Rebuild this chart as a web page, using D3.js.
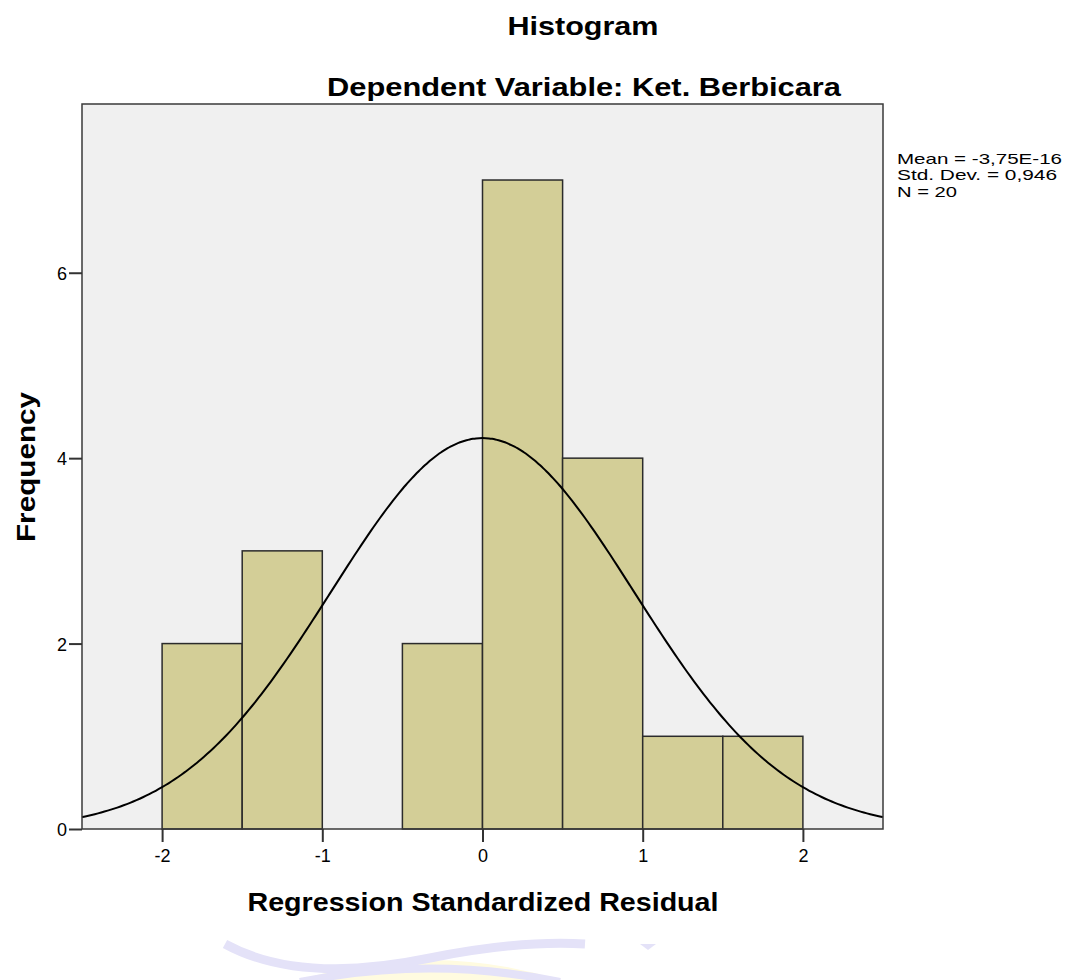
<!DOCTYPE html>
<html>
<head>
<meta charset="utf-8">
<script src="https://cdn.jsdelivr.net/npm/d3@7"></script>
<style>
  body { margin: 0; background: #fff; }
  text { font-family: "Liberation Sans", Arial, sans-serif; fill: #000; }
</style>
</head>
<body>
<script>
// chart data
let binStarts = [-2, -1.5, -1, -0.5, 0, 0.5, 1, 1.5];
let binWidth = 0.5;
let counts = [2, 3, 0, 2, 7, 4, 1, 1];
let xTicks = [-2, -1, 0, 1, 2];
let yTicks = [0, 2, 4, 6];
let statsLines = ["Mean = -3,75E-16", "Std. Dev. = 0,946", "N = 20"];
let mean = -3.75e-16;
let sd = 0.946;
let n = 20;

let width = 1073;
let height = 980;

let svg = d3
  .select("body")
  .append("svg")
  .attr("width", width)
  .attr("height", height);

let x = d3.scaleLinear().domain([-2.5, 2.5]).range([82, 883]);
let y = d3.scaleLinear().domain([0, 7.82]).range([829, 104]);

// faint watermark at the bottom (cropped logo)
let wm = svg.append("g");
wm.append("path")
  .attr("d", "M300,980 Q430,940 560,980 Z")
  .attr("fill", "#fffbe0");
wm.append("path")
  .attr("d", "M225,944 Q300,985 430,958 Q520,940 585,944")
  .attr("fill", "none")
  .attr("stroke", "#e4e2f8")
  .attr("stroke-width", 9);
wm.append("path")
  .attr("d", "M300,982 Q430,955 560,982")
  .attr("fill", "none")
  .attr("stroke", "#e4e2f8")
  .attr("stroke-width", 8);
wm.append("path")
  .attr("d", "M640,944 L656,944 L648,950 Z")
  .attr("fill", "#e4e2f8");

// plot background
svg
  .append("rect")
  .attr("x", x(-2.5))
  .attr("y", y(7.82))
  .attr("width", x(2.5) - x(-2.5))
  .attr("height", y(0) - y(7.82))
  .attr("fill", "#f0f0f0");

// bars
svg
  .append("g")
  .selectAll("rect")
  .data(binStarts.map((s, i) => ({ s, c: counts[i] })).filter((d) => d.c > 0))
  .enter()
  .append("rect")
  .attr("x", (d) => x(d.s))
  .attr("y", (d) => y(d.c))
  .attr("width", (d) => x(d.s + binWidth) - x(d.s))
  .attr("height", (d) => y(0) - y(d.c))
  .attr("fill", "#d3ce97")
  .attr("stroke", "#2b2b2b")
  .attr("stroke-width", 1.5);

// normal curve from the stated mean / sd
let pdf = (v) =>
  (n * binWidth * Math.exp(-0.5 * ((v - mean) / sd) ** 2)) /
  (sd * Math.sqrt(2 * Math.PI));
let curvePts = d3.range(-2.5, 2.5001, 0.02);
svg
  .append("path")
  .datum(curvePts)
  .attr("fill", "none")
  .attr("stroke", "#000")
  .attr("stroke-width", 2)
  .attr("d", d3.line().x((d) => x(d)).y((d) => y(pdf(d))).curve(d3.curveBasis));

// frame
svg
  .append("rect")
  .attr("x", x(-2.5))
  .attr("y", y(7.82))
  .attr("width", x(2.5) - x(-2.5))
  .attr("height", y(0) - y(7.82))
  .attr("fill", "none")
  .attr("stroke", "#3a3a3a")
  .attr("stroke-width", 1.5);

// axes
let fmt = (d) => String(d); // plain hyphen, like the original
let xAxis = svg
  .append("g")
  .attr("transform", `translate(0,${y(0)})`)
  .call(d3.axisBottom(x).tickValues(xTicks).tickSize(13).tickPadding(6).tickFormat(fmt));
let yAxis = svg
  .append("g")
  .attr("transform", `translate(${x(-2.5)},0)`)
  .call(d3.axisLeft(y).tickValues(yTicks).tickSize(13).tickPadding(2).tickFormat(fmt));
[xAxis, yAxis].forEach((a) => {
  a.select(".domain").remove();
  a.selectAll("line").attr("stroke", "#333").attr("stroke-width", 2);
  a.selectAll("text")
    .style("font-family", '"Liberation Sans", Arial, sans-serif')
    .style("font-size", "18px")
    .attr("fill", "#000");
});
xAxis.selectAll("text").attr("dy", "0.8em");
yAxis.selectAll("text").attr("dy", "0.36em");

// titles
svg
  .append("text")
  .attr("x", 583)
  .attr("y", 35)
  .attr("text-anchor", "middle")
  .attr("font-size", 26)
  .attr("font-weight", "bold")
  .attr("textLength", 151)
  .attr("lengthAdjust", "spacingAndGlyphs")
  .text("Histogram");

svg
  .append("text")
  .attr("x", 584)
  .attr("y", 96)
  .attr("text-anchor", "middle")
  .attr("font-size", 26)
  .attr("font-weight", "bold")
  .attr("textLength", 514)
  .attr("lengthAdjust", "spacingAndGlyphs")
  .text("Dependent Variable: Ket. Berbicara");

svg
  .append("text")
  .attr("x", 483)
  .attr("y", 911)
  .attr("text-anchor", "middle")
  .attr("font-size", 26)
  .attr("font-weight", "bold")
  .attr("textLength", 471)
  .attr("lengthAdjust", "spacingAndGlyphs")
  .text("Regression Standardized Residual");

svg
  .append("text")
  .attr("transform", "translate(35,467) rotate(-90)")
  .attr("text-anchor", "middle")
  .attr("font-size", 26)
  .attr("font-weight", "bold")
  .attr("textLength", 150)
  .attr("lengthAdjust", "spacingAndGlyphs")
  .text("Frequency");

// stats box text
let statWidths = [165, 160, 60];
svg
  .append("g")
  .selectAll("text")
  .data(statsLines)
  .enter()
  .append("text")
  .attr("x", 897)
  .attr("y", (d, i) => 164 + i * 16.3)
  .attr("font-size", 15)
  .attr("textLength", (d, i) => statWidths[i])
  .attr("lengthAdjust", "spacingAndGlyphs")
  .text((d) => d);
</script>
</body>
</html>
